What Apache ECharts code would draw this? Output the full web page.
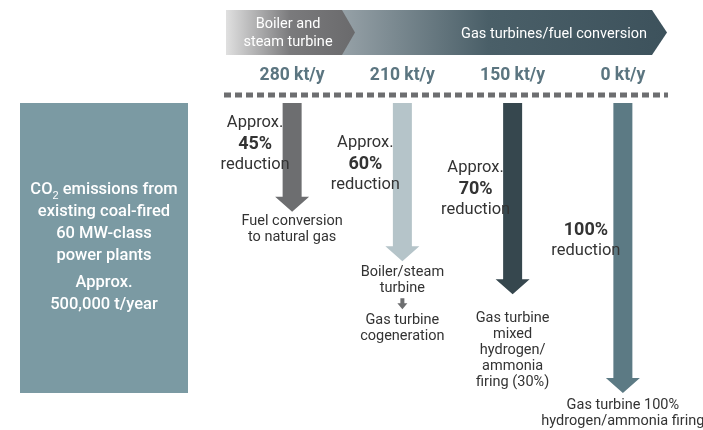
<!DOCTYPE html>
<html>
<head>
<meta charset="utf-8">
<script src="https://cdn.jsdelivr.net/npm/echarts@6/dist/echarts.min.js"></script>
<style>
  html, body { margin: 0; padding: 0; background: #fff; }
  #chart { width: 703px; height: 430px; }
</style>
</head>
<body>
<div id="chart"></div>
<script>
// data
const emissions = [280, 210, 150, 0];           // kt/y after each step
const reductions = [45, 60, 70, 100];           // % reduction
const approx = [true, true, true, false];
const stageLines = [
    ["Fuel conversion", "to natural gas"],
    ["Boiler/steam", "turbine", "↓", "Gas turbine", "cogeneration"],
    ["Gas turbine", "mixed", "hydrogen/", "ammonia", "firing (30%)"],
    ["Gas turbine 100%", "hydrogen/ammonia firing"]
];
const baseLines = ["CO{s|2} emissions from", "existing coal-fired", "60 MW-class", "power plants"];
const baseTotal = ["Approx.", "500,000 t/year"];

// layout / style
const arrowColors = ["#6d6e70", "#b5c4c9", "#36474e", "#5c7a84"];
const noteY = [123, 143, 168, 230];
const labelGap = [10, 11, 24, 12];
const yMin = 12;
const FONT = "Roboto, 'Noto Sans', sans-serif";
const TEXT = "#333";

let chart = echarts.init(document.getElementById("chart"));

function renderArrow(params, api) {
    let i = params.dataIndex;
    let tip = api.coord([i, reductions[i]]);
    let top = api.coord([i, yMin]);
    let cx = tip[0], ty = tip[1], y0 = top[1];
    let sw = 9.5, hw = 17, hh = 15;
    let kids = [{
        type: "polygon",
        shape: {points: [[cx - sw, y0], [cx + sw, y0], [cx + sw, ty - hh], [cx + hw, ty - hh],
            [cx, ty], [cx - hw, ty - hh], [cx - sw, ty - hh]]},
        style: {fill: arrowColors[i]}
    }];
    // reduction note
    let nx = cx - 37, ny = noteY[i];
    let notes = [];
    if (approx[i]) notes.push(["Approx.", "normal", 16.5]);
    notes.push([reductions[i] + "%", "bold", 18]);
    notes.push(["reduction", "normal", 16.5]);
    notes.forEach((n, k) => {
        kids.push({
            type: "text", z2: 10,
            style: {text: n[0], x: nx, y: ny + k * 21, align: "center", verticalAlign: "middle",
                font: n[1] + " " + n[2] + "px " + FONT, fill: TEXT}
        });
    });
    // stage label below the arrow
    let ly = ty + labelGap[i];
    stageLines[i].forEach((t, k) => {
        let y = ly + k * 16;
        if (t === "↓") {
            kids.push({
                type: "polygon",
                shape: {points: [[cx - 2, y - 6], [cx + 2, y - 6], [cx + 2, y - 1], [cx + 5, y - 1],
                    [cx, y + 5], [cx - 5, y - 1], [cx - 2, y - 1]]},
                style: {fill: "#6d6e70"}
            });
        } else {
            kids.push({
                type: "text", z2: 10,
                style: {text: t, x: cx, y: y, align: "center", verticalAlign: "middle",
                    font: "14.5px " + FONT, fill: TEXT}
            });
        }
    });
    return {type: "group", children: kids};
}

let option = {
    animation: false,
    grid: {left: 237, right: 25, top: 103, bottom: 37},
    xAxis: {
        type: "category",
        position: "top",
        offset: 8,
        data: emissions.map(v => v + " kt/y"),
        axisLine: {show: false},
        axisTick: {show: false},
        axisLabel: {margin: 10, color: "#5b7580", fontSize: 17.5, fontWeight: "bold", fontFamily: FONT}
    },
    yAxis: {
        type: "value", inverse: true, min: yMin, max: 100, show: false
    },
    series: [{
        type: "custom",
        renderItem: renderArrow,
        data: reductions.map((r, i) => [i, r])
    }],
    graphic: [
        {
            type: "polygon", z: 1,
            shape: {points: [[342, 10], [652, 10], [667, 32.5], [652, 55], [342, 55]]},
            style: {fill: new echarts.graphic.LinearGradient(0, 0, 1, 0, [
                {offset: 0, color: "#96a1a7"}, {offset: 0.45, color: "#4a5f68"}, {offset: 1, color: "#3d525c"}])}
        },
        {
            type: "polygon", z: 2,
            shape: {points: [[226, 10], [342, 10], [355, 32.5], [342, 55], [226, 55]]},
            style: {fill: new echarts.graphic.LinearGradient(0, 0, 1, 0, [
                {offset: 0, color: "#e0e0e0"}, {offset: 0.5, color: "#7a7a7c"}, {offset: 1, color: "#6a6a6c"}])}
        },
        {
            type: "text", z: 3,
            style: {text: "Boiler and\nsteam turbine", x: 288, y: 33, align: "center", verticalAlign: "middle",
                lineHeight: 18, font: "14.5px " + FONT, fill: "#fff"}
        },
        {
            type: "text", z: 3,
            style: {text: "Gas turbines/fuel conversion", x: 554, y: 34, align: "center", verticalAlign: "middle",
                font: "14.5px " + FONT, fill: "#fff"}
        },
        {
            type: "line", z: 3,
            shape: {x1: 224, y1: 95, x2: 668, y2: 95},
            style: {stroke: "#6d6e70", lineWidth: 5, lineDash: [7, 4]}
        },
        {
            type: "rect", z: 1,
            shape: {x: 20, y: 103, width: 168, height: 290},
            style: {fill: "#7b9aa3"}
        },
        {
            type: "text", z: 3,
            style: {
                text: baseLines.join("\n"), x: 104, y: 223, align: "center", verticalAlign: "middle",
                lineHeight: 22, font: "500 16.5px " + FONT, fill: "#fff",
                rich: {s: {fontSize: 11, fontWeight: 500, verticalAlign: "bottom", padding: [6, 0, 0, 0], fill: "#fff"}}
            }
        },
        {
            type: "text", z: 3,
            style: {
                text: baseTotal.join("\n"), x: 104, y: 294, align: "center", verticalAlign: "middle",
                lineHeight: 22, font: "500 16.5px " + FONT, fill: "#fff"
            }
        }
    ]
};
chart.setOption(option);
</script>
</body>
</html>
